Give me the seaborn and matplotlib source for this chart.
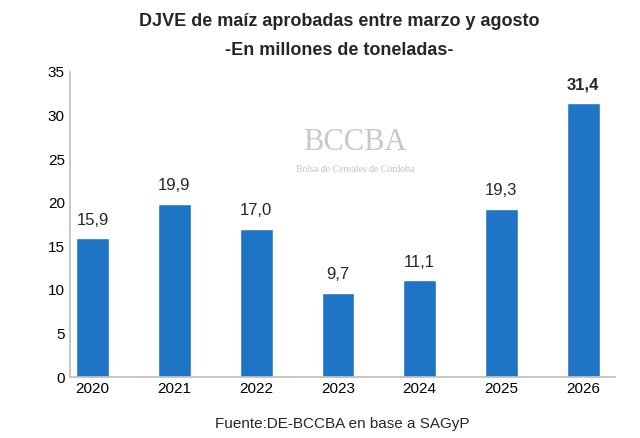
import matplotlib
matplotlib.use("Agg")
import matplotlib.pyplot as plt
import seaborn as sns
import pandas as pd

anios = ["2020", "2021", "2022", "2023", "2024", "2025", "2026"]
valores = [15.9, 19.9, 17.0, 9.7, 11.1, 19.3, 31.4]

sns.set_theme(style="white")
plt.rcParams['font.family'] = ['Liberation Sans', 'DejaVu Sans']

df = pd.DataFrame({'anio': anios, 'valor': valores})

fig = plt.figure(figsize=(6.4, 4.38), dpi=100)
ax = fig.add_axes([0.109, 0.139, 0.852, 0.697])
sns.barplot(data=df, x='anio', y='valor', color='#1F74C6', saturation=1, width=0.4, ax=ax)

ax.set_xlim(-0.28, 6.39)
ax.set_ylim(0, 35)
ax.set_yticks(range(0, 36, 5))
ax.set_xlabel('')
ax.set_ylabel('')
for s in ['top', 'right']:
    ax.spines[s].set_visible(False)
ax.spines['left'].set_color('#bfbfbf')
ax.spines['bottom'].set_color('#bfbfbf')
ax.tick_params(axis='both', labelsize=11, colors='black', length=0)

for i, v in enumerate(valores):
    ax.text(i, v + 1.2, f"{v:.1f}".replace('.', ','), ha='center', va='bottom',
            fontsize=12, fontweight='bold' if i == len(valores) - 1 else 'normal')

# marca de agua
fig.text(0.555, 0.675, 'BCCBA', ha='center', va='center', fontsize=22,
         color='#c8c8c8', family='Liberation Serif')
fig.text(0.555, 0.612, 'Bolsa de Cereales de Córdoba', ha='center', va='center',
         fontsize=7, color='#c0c0c0', family='Liberation Serif')

fig.text(0.53, 0.94, 'DJVE de maíz aprobadas entre marzo y agosto', ha='center',
         fontsize=13, fontweight='bold')
fig.text(0.53, 0.875, '-En millones de toneladas-', ha='center',
         fontsize=13, fontweight='bold')
fig.text(0.535, 0.022, 'Fuente:DE-BCCBA en base a SAGyP', ha='center', fontsize=11)

fig.savefig('out.png', dpi=100)
